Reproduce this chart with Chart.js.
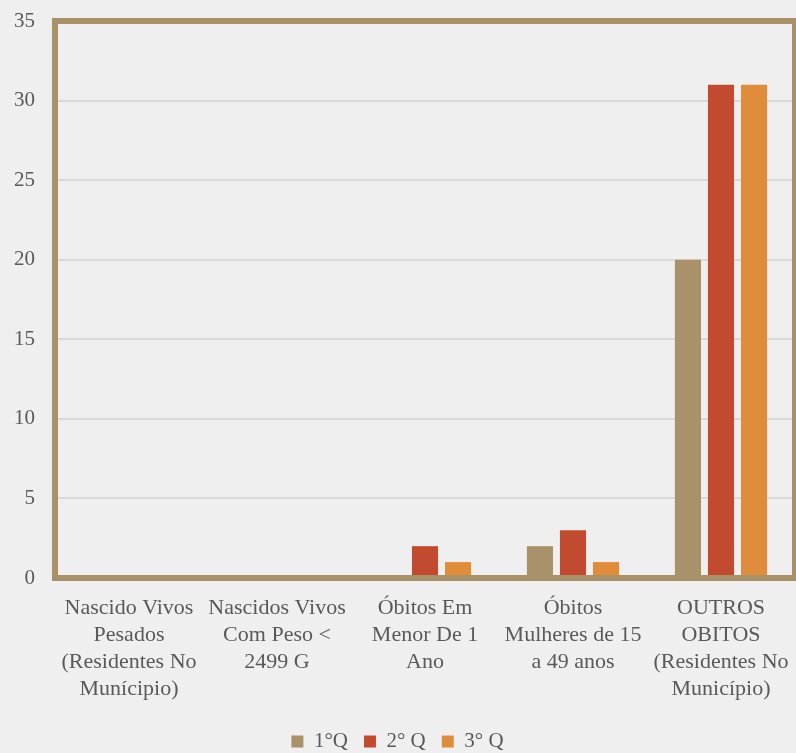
<!DOCTYPE html>
<html>
<head>
<meta charset="utf-8">
<script src="https://cdn.jsdelivr.net/npm/chart.js@4"></script>
<style>
  html, body { margin: 0; padding: 0; background: #efefef; }
  #wrap { width: 796px; height: 753px; }
</style>
</head>
<body>
<div id="wrap"><canvas id="myChart" width="796" height="753"></canvas></div>
<script>
const categorias = [
  ["Nascido Vivos", "Pesados", "(Residentes No", "Munícipio)"],
  ["Nascidos Vivos", "Com Peso <", "2499 G"],
  ["Óbitos Em", "Menor De 1", "Ano"],
  ["Óbitos", "Mulheres de 15", "a 49 anos"],
  ["OUTROS", "OBITOS", "(Residentes No", "Município)"]
];
const series = ["1°Q", "2° Q", "3° Q"];
const q1 = [0, 0, 0, 2, 20];
const q2 = [0, 0, 2, 3, 31];
const q3 = [0, 0, 1, 1, 31];
const colores = ["#a99169", "#c24b2f", "#df8d3a"];
const yTicks = [0, 5, 10, 15, 20, 25, 30, 35];

const fuente = "'Liberation Serif', 'DejaVu Serif', serif";
const gris = "#595959";

// marco marron alrededor del area del grafico
const marco = {
  id: "marco",
  afterDatasetsDraw(chart) {
    const a = chart.chartArea;
    const ctx = chart.ctx;
    ctx.save();
    ctx.strokeStyle = "#a89068";
    ctx.lineWidth = 6;
    ctx.strokeRect(a.left, a.top, a.right - a.left, a.bottom - a.top);
    ctx.restore();
  }
};

const datos = [q1, q2, q3].map((valores, i) => ({
  label: series[i],
  data: valores,
  backgroundColor: colores[i],
  categoryPercentage: 0.67,
  barPercentage: 0.79
}));

new Chart(document.getElementById("myChart"), {
  type: "bar",
  data: { labels: categorias, datasets: datos },
  options: {
    responsive: false,
    animation: false,
    layout: { padding: { top: 21, right: 1, left: 0, bottom: -9 } },
    plugins: {
      legend: {
        position: "bottom",
        labels: {
          boxWidth: 12,
          boxHeight: 12,
          padding: 16,
          color: gris,
          font: { family: fuente, size: 21 }
        }
      },
      tooltip: { enabled: false }
    },
    scales: {
      x: {
        grid: { display: false },
        border: { display: false },
        ticks: {
          color: gris,
          maxRotation: 0,
          autoSkip: false,
          padding: 9,
          font: { family: fuente, size: 22, lineHeight: "27px" }
        },
        afterFit(scale) {
          scale.height = 137;
          scale.paddingLeft = 0;
          scale.paddingRight = 0;
        }
      },
      y: {
        min: 0,
        max: 35,
        afterBuildTicks(scale) { scale.ticks = yTicks.map(v => ({ value: v })); },
        grid: { color: "#d9d9d9", lineWidth: 2, drawTicks: false },
        border: { display: false },
        ticks: {
          color: gris,
          padding: 20,
          font: { family: fuente, size: 21 }
        },
        afterFit(scale) {
          scale.width = 55;
          scale.paddingTop = 10;
          scale.paddingBottom = 10;
        }
      }
    }
  },
  plugins: [marco]
});
</script>
</body>
</html>
